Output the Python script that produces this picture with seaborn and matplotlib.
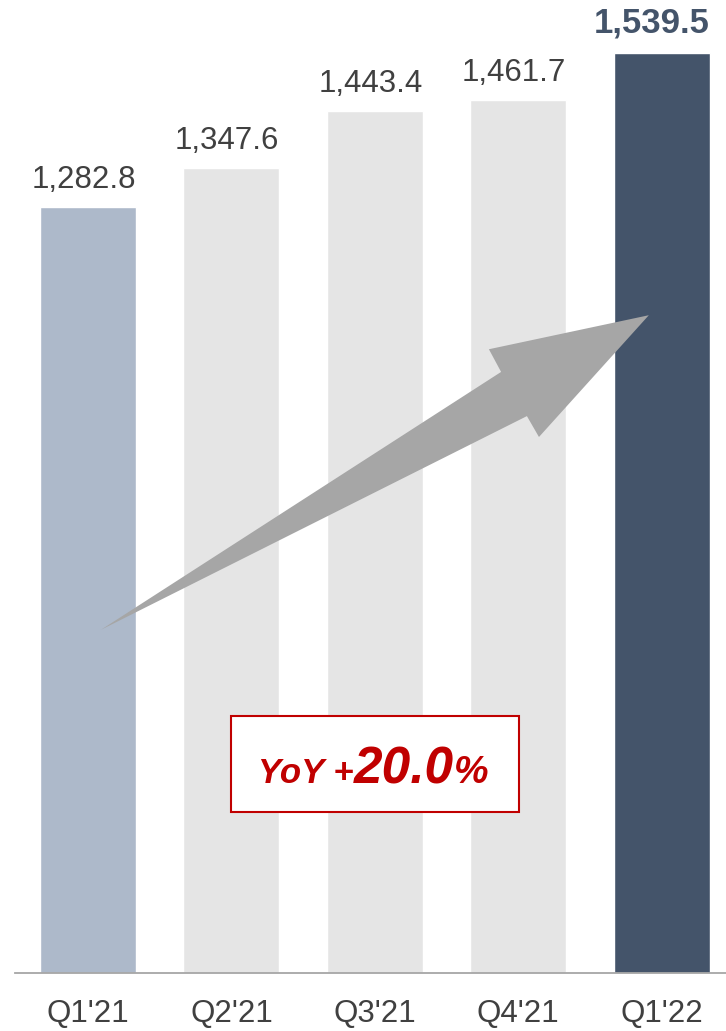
import matplotlib
matplotlib.use("Agg")
import matplotlib.pyplot as plt
import matplotlib.patches as mpatches
import seaborn as sns
import pandas as pd

# Quarterly figures
quarters = ["Q1'21", "Q2'21", "Q3'21", "Q4'21", "Q1'22"]
values = [1282.8, 1347.6, 1443.4, 1461.7, 1539.5]
bar_colors = ["#ADB9CA", "#E5E5E5", "#E5E5E5", "#E5E5E5", "#44546A"]
yoy_label = "20.0"

sns.set_style("white")
plt.rcParams["font.family"] = ["Liberation Sans", "DejaVu Sans"]

W, H = 726, 1031
fig = plt.figure(figsize=(W / 100, H / 100), dpi=100)
ax = fig.add_axes([15 / W, 58.5 / H, 711 / W, 972.5 / H])

df = pd.DataFrame({"quarter": quarters, "value": values})
sns.barplot(data=df, x="quarter", y="value", hue="quarter",
            palette=dict(zip(quarters, bar_colors)), legend=False,
            width=0.67, saturation=1, ax=ax, zorder=1)

ax.set_xlim(-0.509, 4.448)
ax.set_ylim(0, 1629)
ax.set_xlabel("")
ax.set_ylabel("")
ax.set_yticks([])
for s in ["left", "right", "top"]:
    ax.spines[s].set_visible(False)
ax.spines["bottom"].set_color("#A6A6A6")
ax.spines["bottom"].set_linewidth(1.3)
ax.tick_params(axis="x", length=0, pad=19, labelsize=22.5, labelcolor="#404040")

# Value labels above each bar
for i, v in enumerate(values):
    last = i == len(values) - 1
    ax.annotate(f"{v:,.1f}", xy=(i, v), xytext=(-7 if last else -3, 15 if last else 13.5),
                textcoords="offset points", ha="center", va="baseline",
                fontsize=25 if last else 22.5,
                fontweight="bold" if last else "normal",
                color="#44546A" if last else "#404040",
                annotation_clip=False)

# Growth arrow (data coordinates)
arrow_pts = [(0.09, 574), (2.88, 1006), (2.795, 1044), (3.91, 1101),
             (3.144, 897), (3.06, 932)]
ax.add_patch(mpatches.Polygon(arrow_pts, closed=True, facecolor="#A6A6A6",
                              edgecolor="none", zorder=3))

# YoY callout box
box = mpatches.Rectangle((230.7 / W, (H - 812.3) / H), 288.6 / W, 96.6 / H,
                         transform=fig.transFigure, facecolor="white",
                         edgecolor="#C00000", linewidth=1.5, zorder=4)
fig.patches.append(box)

renderer = fig.canvas.get_renderer()
x_px = 258
base_y = (H - 783) / H
pieces = [("YoY +", 25), (yoy_label, 37), ("%", 28)]
for txt, size in pieces:
    t = fig.text(x_px / W, base_y, txt, fontsize=size, fontweight="bold",
                 fontstyle="italic", color="#C00000", va="baseline", ha="left",
                 zorder=5)
    ext = t.get_window_extent(renderer=renderer)
    x_px = ext.x1

fig.savefig("out.png", dpi=100)
